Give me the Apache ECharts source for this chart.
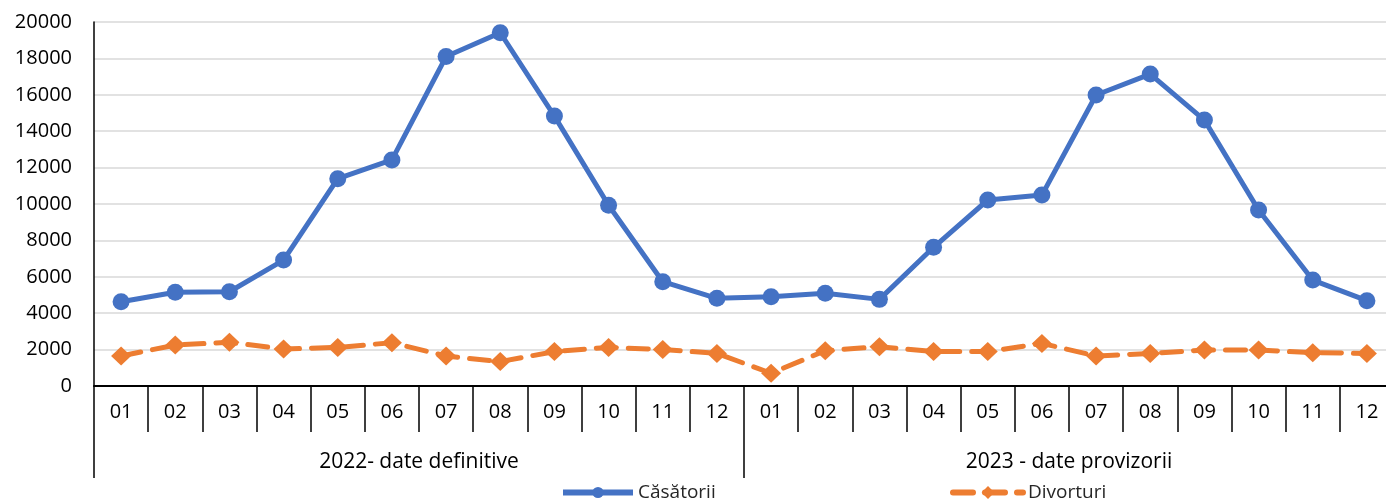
<!DOCTYPE html>
<html>
<head>
<meta charset="utf-8">
<script src="https://cdn.jsdelivr.net/npm/echarts@6/dist/echarts.min.js"></script>
<style>
  html, body { margin: 0; padding: 0; background: #fff; overflow: hidden; }
  #main { width: 1394px; height: 499px; }
</style>
</head>
<body>
<div id="main"></div>
<script>
  // luni, doi ani
  var months = ['01','02','03','04','05','06','07','08','09','10','11','12',
                '01','02','03','04','05','06','07','08','09','10','11','12'];
  var years = ['2022- date definitive', '2023 - date provizorii'];
  var yTicks = [0, 2000, 4000, 6000, 8000, 10000, 12000, 14000, 16000, 18000, 20000];

  var casatorii = [4630, 5150, 5180, 6920, 11390, 12420, 18100, 19410, 14830, 9930, 5730, 4820,
                   4900, 5100, 4760, 7620, 10220, 10490, 15990, 17140, 14610, 9670, 5820, 4690];
  var divorturi = [1650, 2250, 2400, 2030, 2120, 2380, 1650, 1340, 1890, 2120, 2010, 1790,
                   700, 1940, 2160, 1890, 1890, 2340, 1650, 1790, 1980, 1980, 1830, 1790];

  var font = '"Open Sans", sans-serif';
  var myChart = echarts.init(document.getElementById('main'));

  var option = {
    animation: false,
    textStyle: { fontFamily: font },
    legend: [{
      data: ['Căsătorii'],
      left: 555,
      top: 478,
      itemWidth: 70,
      itemHeight: 14,
      lineStyle: { width: 6 },
      textStyle: { fontSize: 19, color: '#262626', fontFamily: font }
    }, {
      data: ['Divorțuri'],
      left: 945,
      top: 478,
      itemWidth: 70,
      itemHeight: 16,
      lineStyle: { width: 6 },
      textStyle: { fontSize: 19, color: '#262626', fontFamily: font }
    }],
    grid: { left: 94, top: 22, right: 0, height: 364 },
    xAxis: [{
      type: 'category',
      data: months,
      position: 'bottom',
      axisLine: { lineStyle: { color: '#000', width: 2 } },
      axisTick: { show: true, interval: 0, length: 46, lineStyle: { color: '#000', width: 1.5 } },
      axisLabel: { interval: 0, margin: 16, fontSize: 20, color: '#000', fontFamily: font }
    }, {
      type: 'category',
      data: years,
      position: 'bottom',
      offset: 46,
      axisLine: { show: false },
      axisTick: { show: true, interval: 0, length: 46, lineStyle: { color: '#000', width: 1.5 } },
      axisLabel: { interval: 0, margin: 20, fontSize: 21, color: '#000', fontFamily: font }
    }],
    yAxis: {
      type: 'value',
      min: yTicks[0],
      max: yTicks[yTicks.length - 1],
      interval: 2000,
      axisLine: { show: true, lineStyle: { color: '#000', width: 1.5 } },
      axisTick: { show: false },
      axisLabel: { margin: 22, fontSize: 20, color: '#000', fontFamily: font,
                   formatter: function (v) { return String(v); } },
      splitLine: { lineStyle: { color: '#d9d9d9', width: 1.5 } }
    },
    series: [{
      name: 'Căsătorii',
      type: 'line',
      xAxisIndex: 0,
      data: casatorii,
      symbol: 'circle',
      symbolSize: 17,
      itemStyle: { color: '#4472C4' },
      lineStyle: { color: '#4472C4', width: 5 }
    }, {
      name: 'Divorțuri',
      type: 'line',
      xAxisIndex: 0,
      data: divorturi,
      symbol: 'diamond',
      symbolSize: [20, 19],
      itemStyle: { color: '#ED7D31' },
      lineStyle: { color: '#ED7D31', width: 5, type: [20, 12], cap: 'round' }
    }]
  };
  myChart.setOption(option);
</script>
</body>
</html>
